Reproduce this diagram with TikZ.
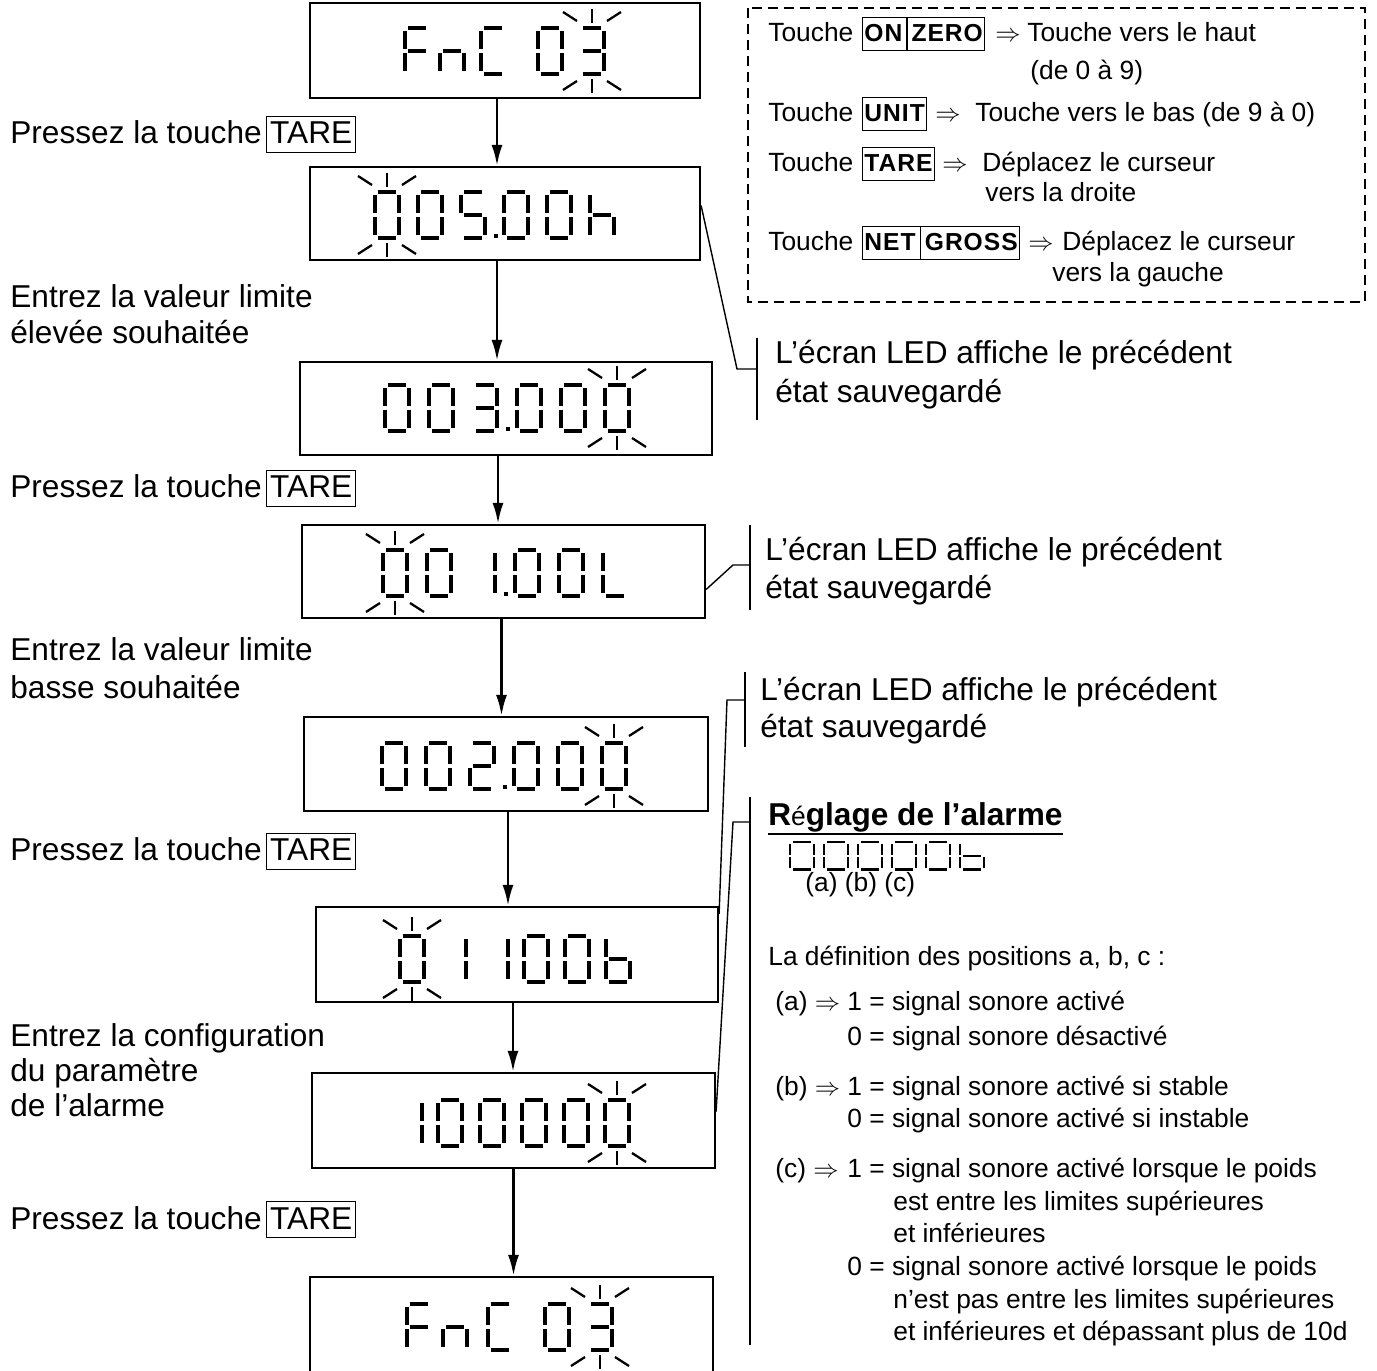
\documentclass[tikz,border=0pt]{standalone}
\usepackage{fontspec}
\setmainfont{Liberation Sans}
\newfontfamily\keyfont[LetterSpace=4]{Liberation Sans}
\usetikzlibrary{arrows.meta,calc}

% one 7-segment character, #1,#2 = top left corner, #3 = list of segments
\newcommand{\ledchar}[3]{%
  \begin{scope}[shift={(#1,#2)}]
    \coordinate (sa1) at (3,0);   \coordinate (sa2) at (21,0);
    \coordinate (sb1) at (24,3);  \coordinate (sb2) at (24,21);
    \coordinate (sc1) at (24,25); \coordinate (sc2) at (24,43);
    \coordinate (sd1) at (3,46);  \coordinate (sd2) at (21,46);
    \coordinate (se1) at (0,25);  \coordinate (se2) at (0,43);
    \coordinate (sf1) at (0,3);   \coordinate (sf2) at (0,21);
    \coordinate (sg1) at (3,23);  \coordinate (sg2) at (21,23);
    \coordinate (sp1) at (35,42); \coordinate (sp2) at (35,46);
    \foreach \sgm in {#3} {\draw[seg] (s\sgm1) -- (s\sgm2);}
  \end{scope}}

% blinking marks round a character
\newcommand{\ledflash}[2]{%
  \begin{scope}[shift={(#1,#2)}]
    \draw[flash] (-17,-16) -- (-3,-7);
    \draw[flash] (12,-19) -- (12,-5);
    \draw[flash] (27,-7) -- (41,-16);
    \draw[flash] (-17,62) -- (-3,53);
    \draw[flash] (12,51) -- (12,65);
    \draw[flash] (27,53) -- (41,62);
  \end{scope}}

\tikzset{
  seg/.style={line width=2pt},
  flash/.style={line width=1.3pt},
  ledbox/.style={draw, line width=1.3pt, inner sep=0pt},
  flow/.style={line width=1.5pt, -{Latex[length=0.42cm,width=0.22cm]}},
  lead/.style={line width=0.8pt},
  legendbox/.style={line width=1.3pt, dash pattern=on 0.2cm off 0.12cm},
  txt/.style={anchor=base west, inner sep=0pt, font=\fontsize{18}{22}\selectfont},
  small/.style={anchor=base west, inner sep=0pt, font=\fontsize{15}{18}\selectfont},
  tare/.style={draw, line width=0.8pt, anchor=base west, inner xsep=2pt,
    inner ysep=2pt, text height=13.5pt, text depth=3pt, font=\fontsize{18}{22}\selectfont},
  keycap/.style={draw, line width=0.8pt, anchor=base west, inner xsep=1pt,
    inner ysep=3pt, text height=11pt, text depth=2pt, font=\keyfont\bfseries\fontsize{14}{17}\selectfont},
}

\begin{document}
\begin{tikzpicture}[x=0.02cm, y=-0.02cm]
  \useasboundingbox (0,0) rectangle (1377,1371);

  % display boxes
  \node[ledbox, minimum width=7.8cm, minimum height=1.9cm] (boxA) at (505,50.5) {};
  \node[ledbox, minimum width=7.8cm, minimum height=1.86cm] (boxB) at (505,213.5) {};
  \node[ledbox, minimum width=8.24cm, minimum height=1.86cm] (boxC) at (506,408.5) {};
  \node[ledbox, minimum width=8.06cm, minimum height=1.86cm] (boxD) at (503.5,571.5) {};
  \node[ledbox, minimum width=8.08cm, minimum height=1.88cm] (boxE) at (506,764) {};
  \node[ledbox, minimum width=8.04cm, minimum height=1.9cm] (boxF) at (517,954.5) {};
  \node[ledbox, minimum width=8.06cm, minimum height=1.9cm] (boxG) at (513.5,1120.5) {};
  \node[ledbox, minimum width=8.06cm, minimum height=2.06cm] (boxH) at (511.5,1328.5) {};

  % FnC 03
  \ledchar{405}{28}{a,e,f,g}
  \ledchar{440}{28}{c,e,g}
  \ledchar{481}{28}{a,d,e,f}
  \ledchar{538}{28}{a,b,c,d,e,f}
  \ledchar{580}{28}{a,b,c,d,g}
  \ledflash{580}{28}
  % 005.00h
  \ledchar{375}{192}{a,b,c,d,e,f}
  \ledchar{418}{192}{a,b,c,d,e,f}
  \ledchar{461}{192}{a,c,d,f,g,p}
  \ledchar{504}{192}{a,b,c,d,e,f}
  \ledchar{547}{192}{a,b,c,d,e,f}
  \ledchar{590}{192}{c,e,f,g}
  \ledflash{375}{192}
  % 003.000
  \ledchar{385}{385}{a,b,c,d,e,f}
  \ledchar{429}{385}{a,b,c,d,e,f}
  \ledchar{473}{385}{a,b,c,d,g,p}
  \ledchar{517}{385}{a,b,c,d,e,f}
  \ledchar{561}{385}{a,b,c,d,e,f}
  \ledchar{605}{385}{a,b,c,d,e,f}
  \ledflash{605}{385}
  % 001.00L
  \ledchar{383}{550}{a,b,c,d,e,f}
  \ledchar{427}{550}{a,b,c,d,e,f}
  \ledchar{471}{550}{b,c,p}
  \ledchar{515}{550}{a,b,c,d,e,f}
  \ledchar{559}{550}{a,b,c,d,e,f}
  \ledchar{603}{550}{d,e,f}
  \ledflash{383}{550}
  % 002.000
  \ledchar{382}{743}{a,b,c,d,e,f}
  \ledchar{426}{743}{a,b,c,d,e,f}
  \ledchar{470}{743}{a,b,d,e,g,p}
  \ledchar{514}{743}{a,b,c,d,e,f}
  \ledchar{558}{743}{a,b,c,d,e,f}
  \ledchar{602}{743}{a,b,c,d,e,f}
  \ledflash{602}{743}
  % 01100b
  \ledchar{400}{936}{a,b,c,d,e,f}
  \ledchar{442}{936}{b,c}
  \ledchar{484}{936}{b,c}
  \ledchar{524}{936}{a,b,c,d,e,f}
  \ledchar{565}{936}{a,b,c,d,e,f}
  \ledchar{606}{936}{c,d,e,f,g}
  \ledflash{400}{936}
  % 100000
  \ledchar{398}{1100}{b,c}
  \ledchar{438}{1100}{a,b,c,d,e,f}
  \ledchar{480}{1100}{a,b,c,d,e,f}
  \ledchar{522}{1100}{a,b,c,d,e,f}
  \ledchar{564}{1100}{a,b,c,d,e,f}
  \ledchar{605}{1100}{a,b,c,d,e,f}
  \ledflash{605}{1100}
  % FnC 03 again
  \ledchar{407}{1304}{a,e,f,g}
  \ledchar{443}{1304}{c,e,g}
  \ledchar{488}{1304}{a,d,e,f}
  \ledchar{545}{1304}{a,b,c,d,e,f}
  \ledchar{588}{1304}{a,b,c,d,g}
  \ledflash{588}{1304}

  % flow arrows
  \coordinate (arA) at ($(boxA.south)+(-8,0)$);
  \coordinate (arB) at ($(boxB.south)+(-8,0)$);
  \coordinate (arC) at ($(boxC.south)+(-8,0)$);
  \coordinate (arD) at ($(boxD.south)+(-2,0)$);
  \coordinate (arE) at ($(boxE.south)+(2,0)$);
  \coordinate (arF) at ($(boxF.south)+(-4,0)$);
  \coordinate (arG) at ($(boxG.south)+(0,0)$);
  \draw[flow] (arA) -- (arA |- boxB.north);
  \draw[flow] (arB) -- (arB |- boxC.north);
  \draw[flow] (arC) -- (arC |- boxD.north);
  \draw[flow] (arD) -- (arD |- boxE.north);
  \draw[flow] (arE) -- (arE |- boxF.north);
  \draw[flow] (arF) -- (arF |- boxG.north);
  \draw[flow] (arG) -- (arG |- boxH.north);

  % left column
  \node[txt] (pressA) at (10,144) {Pressez la touche};
  \node[tare] (tareA) at (266,144) {TARE};
  \node[txt] (highA) at (10,308) {Entrez la valeur limite};
  \node[txt] (highB) at (10,344) {élevée souhaitée};
  \node[txt] (pressB) at (10,498) {Pressez la touche};
  \node[tare] (tareB) at (266,498) {TARE};
  \node[txt] (lowA) at (10,661) {Entrez la valeur limite};
  \node[txt] (lowB) at (10,699) {basse souhaitée};
  \node[txt] (pressC) at (10,861) {Pressez la touche};
  \node[tare] (tareC) at (266,861) {TARE};
  \node[txt] (cfgA) at (10,1046) {Entrez la configuration};
  \node[txt] (cfgB) at (10,1081) {du paramètre};
  \node[txt] (cfgC) at (10,1116) {de l’alarme};
  \node[txt] (pressD) at (10,1229) {Pressez la touche};
  \node[tare] (tareD) at (266,1229) {TARE};

  % key legend
  \draw[legendbox] (748,8) rectangle (1365,302);
  \node[small] (keyA) at (768,42) {Touche};
  \node[keycap] (onzero) at (862,42) {ON\,\rule[-5pt]{0.6pt}{19pt}\,ZERO};
  \node[small] (impA) at (995,42) {$\Rightarrow$};
  \node[small] (upA) at (1027,42) {Touche vers le haut};
  \node[small] (upB) at (1030,80) {(de 0 à 9)};
  \node[small] (keyB) at (768,122) {Touche};
  \node[keycap] (unit) at (862,122) {UNIT};
  \node[small] (impB) at (935,122) {$\Rightarrow$};
  \node[small] (downA) at (975,122) {Touche vers le bas (de 9 à 0)};
  \node[small] (keyC) at (768,172) {Touche};
  \node[keycap] (tareK) at (862,172) {TARE};
  \node[small] (impC) at (942,172) {$\Rightarrow$};
  \node[small] (rightA) at (982,172) {Déplacez le curseur};
  \node[small] (rightB) at (985,202) {vers la droite};
  \node[small] (keyD) at (768,251) {Touche};
  \node[keycap] (netgross) at (862,251) {NET\,\rule[-5pt]{0.6pt}{19pt}\,GROSS};
  \node[small] (impD) at (1028,251) {$\Rightarrow$};
  \node[small] (leftA) at (1062,251) {Déplacez le curseur};
  \node[small] (leftB) at (1052,282) {vers la gauche};

  % callouts
  \node[txt] (prevA) at (775,364) {L’écran LED affiche le précédent};
  \node[txt] (prevB) at (775,403) {état sauvegardé};
  \draw[lead] (757,338) -- (757,420);
  \coordinate (kneeB) at (737,369);
  \draw[lead] ($(boxB.east)+(0,-8)$) -- (kneeB) -- ++(20,0);

  \node[txt] (prevC) at (765,561) {L’écran LED affiche le précédent};
  \node[txt] (prevD) at (765,599) {état sauvegardé};
  \draw[lead] (750,525) -- (750,610);
  \coordinate (kneeD) at (733,565);
  \draw[lead] ($(boxD.east)+(0,18)$) -- (kneeD) -- ++(17,0);

  \node[txt] (prevE) at (760,701) {L’écran LED affiche le précédent};
  \node[txt] (prevF) at (760,738) {état sauvegardé};
  \draw[lead] (745,672) -- (745,747);
  \coordinate (kneeF) at (727,700);
  \draw[lead] ($(boxF.north east)+(0,8)$) -- (kneeF) -- ++(18,0);

  % alarm setting
  \node[txt, font=\bfseries\fontsize{18}{22}\selectfont] (alarm) at (768,826)
    {R{\mdseries\fontsize{15}{18}\selectfont é}glage de l’alarme};
  \draw[line width=1.7pt] ($(alarm.base west)+(0,8)$) -- ($(alarm.base east)+(0,8)$);
  \draw[lead] (750,797) -- (750,1345);
  \coordinate (kneeG) at (733,822);
  \draw[lead] ($(boxG.east)+(0,-9)$) -- (kneeG) -- ++(17,0);

  \begin{scope}[shift={(790,842)}, yscale=0.6, seg/.append style={line width=1.4pt}]
    \ledchar{0}{0}{a,b,c,d,e,f}
    \ledchar{34}{0}{a,b,c,d,e,f}
    \ledchar{68}{0}{a,b,c,d,e,f}
    \ledchar{102}{0}{a,b,c,d,e,f}
    \ledchar{136}{0}{a,b,c,d,e,f}
    \ledchar{170}{0}{c,d,e,f,g}
  \end{scope}
  \node[small] (abc) at (805,891) {(a) (b) (c)};
  \node[small] (defn) at (768,965) {La définition des positions a, b, c :};

  \node[small] (selA) at (775,1010) {(a) $\Rightarrow$};
  \node[small] (onA) at (847,1010) {1 = signal sonore activé};
  \node[small] (offA) at (847,1045) {0 = signal sonore désactivé};
  \node[small] (selB) at (775,1095) {(b) $\Rightarrow$};
  \node[small] (onB) at (847,1095) {1 = signal sonore activé si stable};
  \node[small] (offB) at (847,1127) {0 = signal sonore activé si instable};
  \node[small] (selC) at (775,1177) {(c) $\Rightarrow$};
  \node[small] (onC) at (847,1177) {1 = signal sonore activé lorsque le poids};
  \node[small] (onD) at (893,1210) {est entre les limites supérieures};
  \node[small] (onE) at (893,1242) {et inférieures};
  \node[small] (offC) at (847,1275) {0 = signal sonore activé lorsque le poids};
  \node[small] (offD) at (893,1308) {n’est pas entre les limites supérieures};
  \node[small] (offE) at (893,1340) {et inférieures et dépassant plus de 10d};
\end{tikzpicture}
\end{document}
